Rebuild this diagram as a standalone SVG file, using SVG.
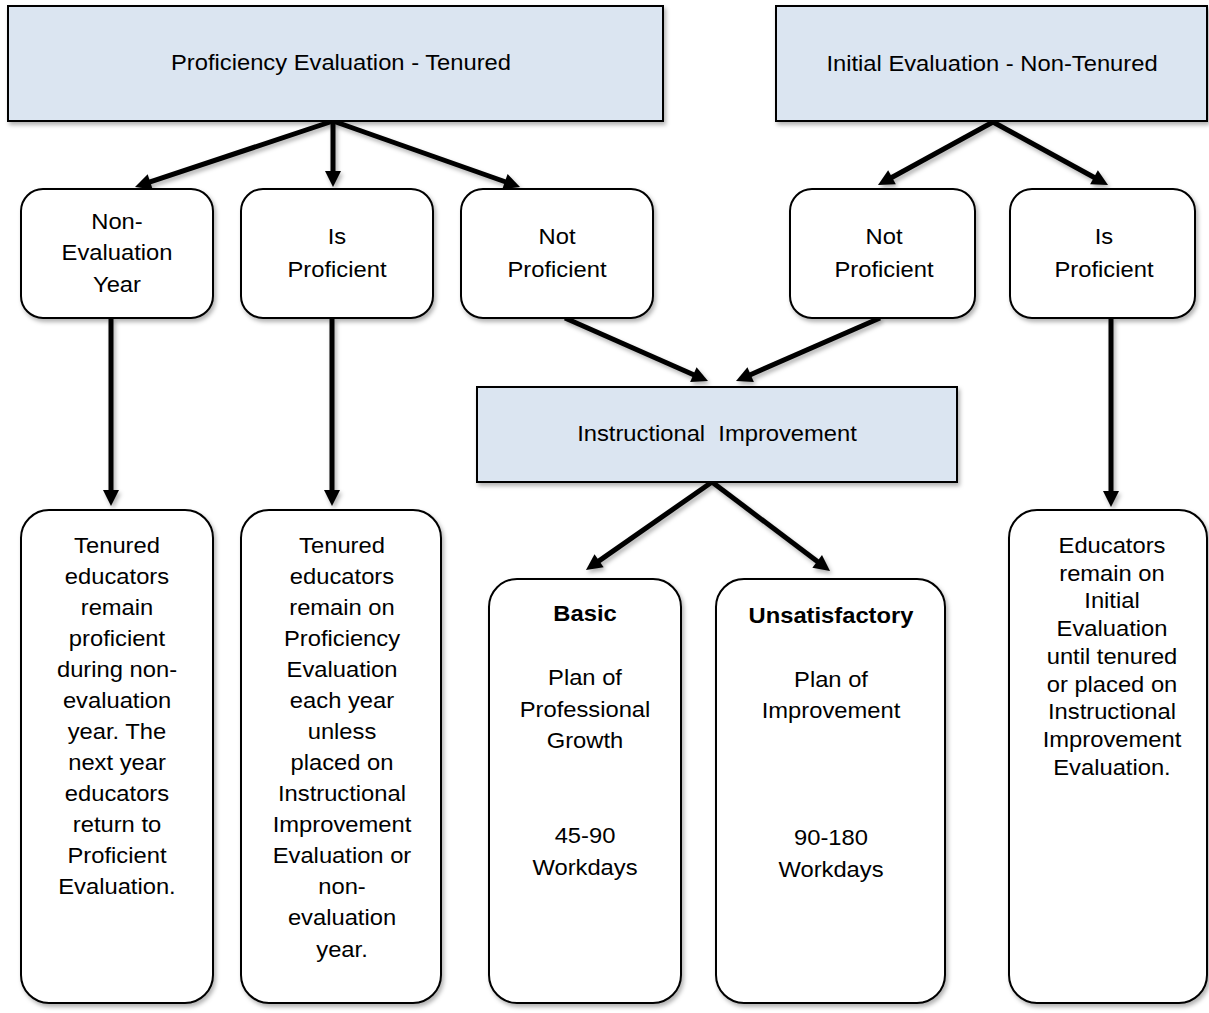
<svg xmlns="http://www.w3.org/2000/svg" width="1209" height="1013" viewBox="0 0 1209 1013">
<style>
.hdr{fill:#dbe5f1;stroke:#000;stroke-width:2}
.box{fill:#fff;stroke:#000;stroke-width:2}
.t{font-family:"Liberation Sans",Arial,sans-serif;font-size:22px;text-anchor:middle;fill:#000}
.b{font-weight:bold}
.c line{stroke:#000;stroke-width:5;marker-end:url(#ah)}
</style>
<defs>
<filter id="sh" x="-10%" y="-10%" width="130%" height="130%">
<feDropShadow dx="2" dy="3" stdDeviation="2" flood-color="#000" flood-opacity="0.3"/>
</filter>
<marker id="ah" markerUnits="userSpaceOnUse" markerWidth="18" markerHeight="18" refX="4" refY="8" orient="auto" overflow="visible">
<path d="M0,0 L16,8 L0,16 z" fill="#000"/>
</marker>
</defs>
<rect width="1209" height="1013" fill="#fff"/>

<g id="connectors" class="c" filter="url(#sh)">
<line x1="333" y1="121" x2="146.4" y2="183.2"/>
<line x1="333" y1="121" x2="333" y2="175"/>
<line x1="333" y1="121" x2="508.7" y2="183"/>
<line x1="993" y1="122" x2="888.5" y2="179.2"/>
<line x1="993" y1="122" x2="1097.5" y2="179.2"/>
<line x1="565" y1="318" x2="697" y2="376.2"/>
<line x1="880" y1="318" x2="747" y2="376.2"/>
<line x1="712" y1="482" x2="595.8" y2="563.1"/>
<line x1="712" y1="482" x2="820.4" y2="563.8"/>
<line x1="111" y1="318" x2="111" y2="494"/>
<line x1="332" y1="318" x2="332" y2="494"/>
<line x1="1111" y1="318" x2="1111" y2="495"/>
</g>

<g id="prof-eval-tenured">
<rect class="hdr" x="8" y="6" width="655" height="115" filter="url(#sh)"/>
<g transform="translate(341 0) scale(1.08 1)"><text class="t" x="0" y="70">Proficiency Evaluation - Tenured</text></g>
</g>

<g id="initial-eval-nontenured">
<rect class="hdr" x="776" y="6" width="431" height="115" filter="url(#sh)"/>
<g transform="translate(992 0) scale(1.08 1)"><text class="t" x="0" y="71">Initial Evaluation - Non-Tenured</text></g>
</g>

<g id="non-eval-year">
<rect class="box" x="21" y="189" width="192" height="129" rx="22" filter="url(#sh)"/>
<g transform="translate(117 0) scale(1.08 1)">
<text class="t" x="0" y="229">Non-</text>
<text class="t" x="0" y="260">Evaluation</text>
<text class="t" x="0" y="292">Year</text>
</g>
</g>

<g id="is-proficient-tenured">
<rect class="box" x="241" y="189" width="192" height="129" rx="22" filter="url(#sh)"/>
<g transform="translate(337 0) scale(1.08 1)">
<text class="t" x="0" y="244">Is</text>
<text class="t" x="0" y="277">Proficient</text>
</g>
</g>

<g id="not-proficient-tenured">
<rect class="box" x="461" y="189" width="192" height="129" rx="22" filter="url(#sh)"/>
<g transform="translate(557 0) scale(1.08 1)">
<text class="t" x="0" y="244">Not</text>
<text class="t" x="0" y="277">Proficient</text>
</g>
</g>

<g id="not-proficient-initial">
<rect class="box" x="790" y="189" width="185" height="129" rx="22" filter="url(#sh)"/>
<g transform="translate(884 0) scale(1.08 1)">
<text class="t" x="0" y="244">Not</text>
<text class="t" x="0" y="277">Proficient</text>
</g>
</g>

<g id="is-proficient-initial">
<rect class="box" x="1010" y="189" width="185" height="129" rx="22" filter="url(#sh)"/>
<g transform="translate(1104 0) scale(1.08 1)">
<text class="t" x="0" y="244">Is</text>
<text class="t" x="0" y="277">Proficient</text>
</g>
</g>

<g id="instructional-improvement">
<rect class="hdr" x="477" y="387" width="480" height="95" filter="url(#sh)"/>
<g transform="translate(717 0) scale(1.08 1)"><text class="t" x="0" y="441" xml:space="preserve">Instructional  Improvement</text></g>
</g>

<g id="tenured-non-eval-desc">
<rect class="box" x="21" y="510" width="192" height="493" rx="28" filter="url(#sh)"/>
<g transform="translate(117 0) scale(1.08 1)">
<text class="t" x="0" y="553">Tenured</text>
<text class="t" x="0" y="584">educators</text>
<text class="t" x="0" y="615">remain</text>
<text class="t" x="0" y="646">proficient</text>
<text class="t" x="0" y="677">during non-</text>
<text class="t" x="0" y="708">evaluation</text>
<text class="t" x="0" y="739">year. The</text>
<text class="t" x="0" y="770">next year</text>
<text class="t" x="0" y="801">educators</text>
<text class="t" x="0" y="832">return to</text>
<text class="t" x="0" y="863">Proficient</text>
<text class="t" x="0" y="894">Evaluation.</text>
</g>
</g>

<g id="tenured-proficient-desc">
<rect class="box" x="241" y="510" width="200" height="493" rx="28" filter="url(#sh)"/>
<g transform="translate(342 0) scale(1.08 1)">
<text class="t" x="0" y="553">Tenured</text>
<text class="t" x="0" y="584">educators</text>
<text class="t" x="0" y="615">remain on</text>
<text class="t" x="0" y="646">Proficiency</text>
<text class="t" x="0" y="677">Evaluation</text>
<text class="t" x="0" y="708">each year</text>
<text class="t" x="0" y="739">unless</text>
<text class="t" x="0" y="770">placed on</text>
<text class="t" x="0" y="801">Instructional</text>
<text class="t" x="0" y="832">Improvement</text>
<text class="t" x="0" y="863">Evaluation or</text>
<text class="t" x="0" y="894">non-</text>
<text class="t" x="0" y="925">evaluation</text>
<text class="t" x="0" y="957">year.</text>
</g>
</g>

<g id="basic">
<rect class="box" x="489" y="579" width="192" height="424" rx="28" filter="url(#sh)"/>
<g transform="translate(585 0) scale(1.08 1)">
<text class="t b" x="0" y="621">Basic</text>
<text class="t" x="0" y="685">Plan of</text>
<text class="t" x="0" y="717">Professional</text>
<text class="t" x="0" y="748">Growth</text>
<text class="t" x="0" y="843">45-90</text>
<text class="t" x="0" y="875">Workdays</text>
</g>
</g>

<g id="unsatisfactory">
<rect class="box" x="716" y="579" width="229" height="424" rx="28" filter="url(#sh)"/>
<g transform="translate(831 0) scale(1.08 1)">
<text class="t b" x="0" y="623">Unsatisfactory</text>
<text class="t" x="0" y="687">Plan of</text>
<text class="t" x="0" y="718">Improvement</text>
<text class="t" x="0" y="845">90-180</text>
<text class="t" x="0" y="877">Workdays</text>
</g>
</g>

<g id="initial-proficient-desc">
<rect class="box" x="1009" y="510" width="198" height="493" rx="28" filter="url(#sh)"/>
<g transform="translate(1112 0) scale(1.08 1)">
<text class="t" x="0" y="553">Educators</text>
<text class="t" x="0" y="581">remain on</text>
<text class="t" x="0" y="608">Initial</text>
<text class="t" x="0" y="636">Evaluation</text>
<text class="t" x="0" y="664">until tenured</text>
<text class="t" x="0" y="692">or placed on</text>
<text class="t" x="0" y="719">Instructional</text>
<text class="t" x="0" y="747">Improvement</text>
<text class="t" x="0" y="775">Evaluation.</text>
</g>
</g>
</svg>
